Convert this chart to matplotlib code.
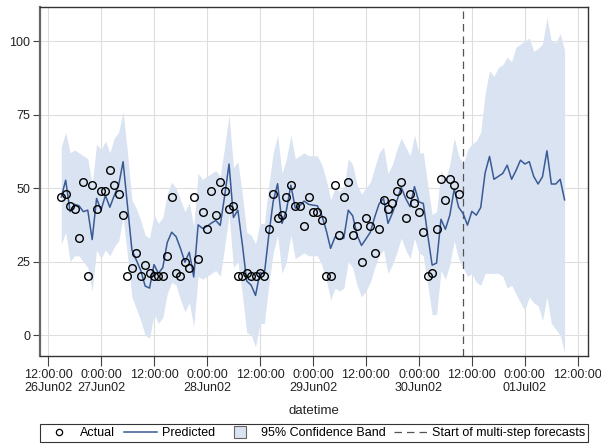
import pandas as pd
import matplotlib
matplotlib.use('Agg')
from matplotlib import pyplot as plt
from matplotlib.lines import Line2D

plt.rcParams['font.family'] = ['Liberation Sans', 'DejaVu Sans']

# hourly series, 26Jun02 15:00 -> 01Jul02 09:00
start = '2002-06-26 15:00'
forecast_start = '2002-06-30 10:00'

actual = [47, 48, 44, 43, 33, 52, 20, 51, 43, 49, 49, 56, 51, 48, 41, 20, 23, 28, 20, 24,
          21, 20, 20, 20, 27, 47, 21, 20, 25, 23, 47, 26, 42, 36, 49, 41, 52, 49, 43, 44,
          20, 20, 21, 20, 20, 21, 20, 36, 48, 40, 41, 47, 51, 44, 44, 37, 47, 42, 42, 39,
          20, 20, 51, 34, 47, 52, 34, 37, 25, 40, 37, 28, 36, 46, 43, 45, 49, 52, 40, 48,
          45, 42, 35, 20, 21, 36, 53, 46, 53, 51, 48]

predicted = [47, 52.7, 42, 44.5, 44, 42, 42.5, 32.5, 46.5, 42.5, 47.5, 43.5, 47.5, 51, 59,
             44, 29, 25.5, 22, 16.7, 16, 24, 21, 23, 31.5, 35, 33.5, 29.5, 24.8, 28.2,
             19.8, 37.5, 36.3, 37, 38.1, 39, 37.3, 47.3, 58.2, 40, 42.5, 31, 18.4, 17, 13.5,
             21.3, 20.8, 34, 45.5, 51.5, 38, 42.5, 51, 43.2, 44, 45.6, 44.5, 44.2, 44, 40.8,
             35.7, 29.5, 33.4, 32.5, 33, 42.5, 40.6, 34, 30.5, 32.7, 35, 40.2, 44.7, 46.5, 38,
             41.5, 45.6, 50.3, 46.5, 43.7, 50.5, 45.3, 44.8, 34, 23.8, 24.5, 39.4, 36, 40.8,
             49.7, 43.5, 41.4, 37.4, 42.1, 40.8, 43.4, 55.2, 60.8, 53, 54, 55, 57.8, 53, 56,
             59.5, 58.2, 59, 54, 51.4, 53.9, 62.7, 51.4, 51.4, 53, 46]

upper = [64, 69, 62, 63, 62, 61, 60, 51, 65, 63, 66, 62, 67, 69, 76, 62, 46, 43, 39, 34,
         33, 41, 38, 40, 48, 52, 50, 46, 42, 45, 37, 55, 53, 54, 55, 56, 54, 64, 75, 57,
         59, 48, 35, 34, 31, 38, 38, 51, 62, 68, 55, 60, 68, 60, 61, 62, 61, 61, 61, 58,
         53, 46, 50, 49, 50, 60, 58, 51, 48, 50, 52, 57, 62, 64, 55, 58, 63, 67, 64, 61,
         68, 62, 62, 51, 41, 42, 56, 53, 58, 67, 61, 58, 63, 65, 66, 69, 82, 90, 88, 91,
         92, 94.5, 93, 98, 99, 100, 101, 96.5, 97.5, 99, 108, 100, 99.5, 102.5, 97]

lower = [31, 35, 25, 27, 27, 25, 23, 15, 29, 26, 29, 27, 30, 32, 40, 27, 13, 9, 5, 0,
         -1, 7, 4, 6, 14, 18, 17, 12, 8, 11, 3, 20, 19, 20, 21, 22, 20, 30, 41, 23,
         25, 14, 1, 0, -4, 4, 4, 17, 28, 34, 21, 25, 34, 26, 27, 28, 27, 27, 27, 24,
         19, 12, 16, 15, 16, 25, 23, 17, 13, 15, 18, 23, 27, 29, 21, 24, 28, 33, 29, 26,
         33, 28, 27, 17, 7, 7, 22, 19, 24, 32, 26, 23, 20, 21, 18, 17, 21, 21, 21, 21,
         20, 16, 17, 14, 11, 8.5, 13, 11, 10, 5, 13, 4, 2, 0, -6]

tick_times = pd.date_range('2002-06-26 12:00', '2002-07-01 12:00', freq='12h')
tick_labels = ['12:00:00\n26Jun02', '0:00:00\n27Jun02', '12:00:00', '0:00:00\n28Jun02',
               '12:00:00', '0:00:00\n29Jun02', '12:00:00', '0:00:00\n30Jun02',
               '12:00:00', '0:00:00\n01Jul02', '12:00:00']

t_all = pd.date_range(start, periods=len(predicted), freq='h')
t_act = t_all[:len(actual)]

band_col = '#d9e3f1'
line_col = '#3a5a96'

fig = plt.figure(figsize=(6.01, 4.44), dpi=100)
ax = fig.add_axes([40 / 601, 1 - 356 / 444, 548 / 601, 349 / 444])

ax.fill_between(t_all, lower, upper, color=band_col, lw=0, zorder=1)
ax.plot(t_all, predicted, color=line_col, lw=1.1, zorder=3)
ax.plot(t_act, actual, 'o', mfc='none', mec='black', ms=5.5, mew=1, zorder=4)
ax.axvline(pd.Timestamp(forecast_start), color='#555555', lw=0.9, ls=(0, (6, 4)), zorder=2)

ax.set_ylim(-7.1, 111.6)
ax.set_yticks([0, 25, 50, 75, 100])
ax.set_xlim(pd.Timestamp('2002-06-26 10:11'), pd.Timestamp('2002-07-01 14:18'))
ax.set_xticks(tick_times)
ax.set_xticklabels(tick_labels, ha='center')
ax.grid(True, color='#dedede', lw=0.8, zorder=0)
ax.set_axisbelow(True)

ax.tick_params(axis='both', labelsize=9, labelcolor='#222222', color='#444444')
ax.tick_params(axis='x', length=7, pad=2)
ax.tick_params(axis='y', length=5, pad=2)
for s in ax.spines.values():
    s.set_color('#333333')
    s.set_linewidth(1)
ax.spines['left'].set_color('#666666')
ax.spines['left'].set_linewidth(1.6)

ax.set_xlabel('datetime', fontsize=9.5, color='#222222', labelpad=8)

handles = [Line2D([], [], marker='o', ls='none', mfc='none', mec='black', ms=4.5, mew=0.9),
           Line2D([], [], color=line_col, lw=1.1),
           Line2D([], [], marker='s', ls='none', mfc=band_col, mec='#666666', ms=8, mew=0.8),
           Line2D([], [], color='#555555', lw=0.9, ls=(0, (6, 4)))]
labels = ['Actual', 'Predicted', '95% Confidence Band', 'Start of multi-step forecasts']
leg = fig.legend(handles, labels, loc='lower center', ncol=4,
                 bbox_to_anchor=(314 / 601, 2 / 444), borderaxespad=0,
                 fontsize=9, frameon=True, fancybox=False, borderpad=0.25,
                 handlelength=2.6, handletextpad=0.4, columnspacing=0.7)
leg.get_frame().set_edgecolor('black')
leg.get_frame().set_linewidth(0.8)

fig.savefig('out.png', dpi=100)
